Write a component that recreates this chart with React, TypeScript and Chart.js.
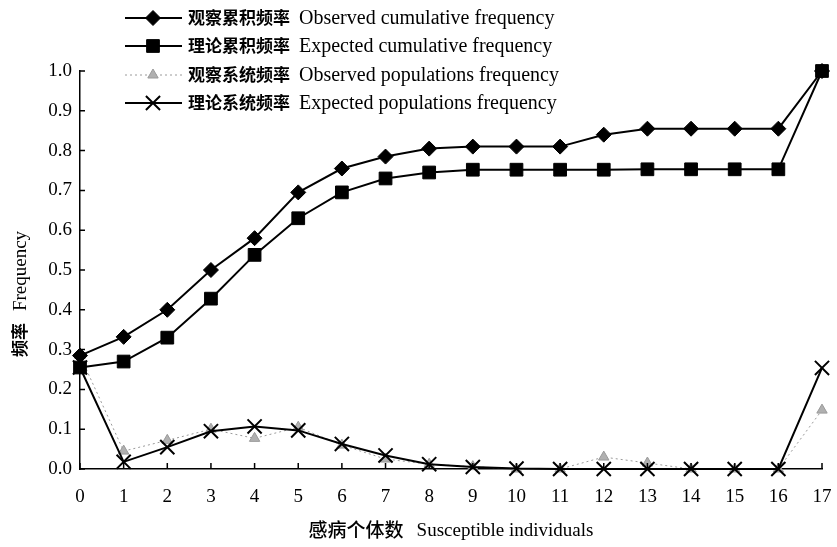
import React, { useEffect, useRef } from "react";
import { Chart, registerables } from "chart.js";

Chart.register(...registerables);

const categories = [0, 1, 2, 3, 4, 5, 6, 7, 8, 9, 10, 11, 12, 13, 14, 15, 16, 17];
const observedCumulative = [0.285, 0.332, 0.4, 0.5, 0.58, 0.695, 0.755, 0.785, 0.805, 0.81, 0.81, 0.81, 0.84, 0.855, 0.855, 0.855, 0.855, 1.0];
const expectedCumulative = [0.255, 0.27, 0.33, 0.428, 0.538, 0.63, 0.695, 0.73, 0.745, 0.752, 0.752, 0.752, 0.752, 0.753, 0.753, 0.753, 0.753, 1.0];
const observedPopulations = [0.285, 0.045, 0.072, 0.1, 0.077, 0.105, 0.06, 0.025, 0.012, 0.006, 0.0, 0.0, 0.03, 0.015, 0.0, 0.0, 0.0, 0.148];
const expectedPopulations = [0.255, 0.018, 0.055, 0.095, 0.107, 0.097, 0.063, 0.034, 0.012, 0.005, 0.001, 0.0, 0.0, 0.0, 0.0, 0.0, 0.0, 0.254];
const seriesLabelsZh = ["观察累积频率", "理论累积频率", "观察系统频率", "理论系统频率"];
const seriesLabelsEn = ["Observed cumulative frequency", "Expected cumulative frequency", "Observed populations frequency", "Expected populations frequency"];
const yTicks = [0, 0.1, 0.2, 0.3, 0.4, 0.5, 0.6, 0.7, 0.8, 0.9, 1.0];
const xTitleZh = "感病个体数";
const xTitleEn = "Susceptible individuals";
const yTitleZh = "频率";
const yTitleEn = "Frequency";

const SERIF = "'Liberation Serif', 'DejaVu Serif', serif";
const CJK = "'Noto Sans CJK SC', sans-serif";

const extrasPlugin = {
  id: "extras",
  afterDraw(chart: any) {
    const ctx = chart.ctx;
    const xs = chart.scales.x;
    const ys = chart.scales.y;
    const area = chart.chartArea;
    ctx.save();
    // inward ticks
    ctx.strokeStyle = "#000";
    ctx.lineWidth = 1.5;
    ctx.beginPath();
    yTicks.forEach((v) => {
      const py = ys.getPixelForValue(v);
      ctx.moveTo(area.left, py);
      ctx.lineTo(area.left + 5, py);
    });
    categories.forEach((c) => {
      const px = xs.getPixelForValue(c);
      ctx.moveTo(px, area.bottom);
      ctx.lineTo(px, area.bottom - 6);
    });
    ctx.stroke();

    // legend
    const rows = [18, 46, 75, 103];
    rows.forEach((ry, i) => {
      const ds = chart.data.datasets[i];
      ctx.save();
      ctx.strokeStyle = ds.borderColor;
      ctx.lineWidth = ds.borderWidth;
      ctx.setLineDash(ds.borderDash || []);
      ctx.beginPath();
      ctx.moveTo(125, ry);
      ctx.lineTo(182, ry);
      ctx.stroke();
      ctx.setLineDash([]);
      const el = chart.getDatasetMeta(i).data[0];
      if (el) {
        ctx.translate(153 - el.x, ry - el.y);
        el.draw(ctx);
      }
      ctx.restore();
      ctx.fillStyle = "#000";
      ctx.textBaseline = "middle";
      ctx.textAlign = "left";
      ctx.font = `bold 17px ${CJK}`;
      ctx.fillText(seriesLabelsZh[i], 188, ry);
      const w = ctx.measureText(seriesLabelsZh[i]).width;
      ctx.font = `20px ${SERIF}`;
      ctx.fillText(seriesLabelsEn[i], 188 + w + 9, ry + 1);
    });

    // x title
    ctx.fillStyle = "#000";
    ctx.textBaseline = "middle";
    ctx.textAlign = "left";
    ctx.font = `500 19px ${CJK}`;
    const wz = ctx.measureText(xTitleZh).width;
    ctx.font = `19px ${SERIF}`;
    const we = ctx.measureText(xTitleEn).width;
    const total = wz + 13 + we;
    const sx = (area.left + area.right) / 2 - total / 2;
    ctx.font = `500 19px ${CJK}`;
    ctx.fillText(xTitleZh, sx, 530);
    ctx.font = `19px ${SERIF}`;
    ctx.fillText(xTitleEn, sx + wz + 13, 531);

    // y title
    ctx.save();
    ctx.translate(20, 294);
    ctx.rotate(-Math.PI / 2);
    ctx.font = `bold 17px ${CJK}`;
    const yz = ctx.measureText(yTitleZh).width;
    ctx.font = `19px ${SERIF}`;
    const ye = ctx.measureText(yTitleEn).width;
    const yt = yz + 12 + ye;
    ctx.font = `bold 17px ${CJK}`;
    ctx.fillText(yTitleZh, -yt / 2, 0);
    ctx.font = `19px ${SERIF}`;
    ctx.fillText(yTitleEn, -yt / 2 + yz + 12, 1);
    ctx.restore();

    ctx.restore();
  },
};

function toPoints(vals: number[]) {
  return vals.map((v, i) => ({ x: categories[i], y: v }));
}

export default function App() {
  const ref = useRef<HTMLCanvasElement | null>(null);
  useEffect(() => {
    if (!ref.current) return;
    const chart = new Chart(ref.current, {
      type: "line",
      data: {
        datasets: [
          {
            label: seriesLabelsEn[0],
            data: toPoints(observedCumulative),
            borderColor: "#000",
            backgroundColor: "#000",
            borderWidth: 2,
            pointStyle: "rectRot",
            pointRadius: 7.5,
            pointBorderWidth: 1,
            clip: false,
            order: 0,
          },
          {
            label: seriesLabelsEn[1],
            data: toPoints(expectedCumulative),
            borderColor: "#000",
            backgroundColor: "#000",
            borderWidth: 2,
            pointStyle: "rect",
            pointRadius: 9,
            pointBorderWidth: 1,
            clip: false,
            order: 1,
          },
          {
            label: seriesLabelsEn[2],
            data: toPoints(observedPopulations),
            borderColor: "#9a9a9a",
            backgroundColor: "#b0b0b0",
            borderWidth: 1,
            borderDash: [2, 3],
            pointStyle: "triangle",
            pointRadius: 6,
            pointBorderWidth: 1,
            clip: false,
            order: 3,
          },
          {
            label: seriesLabelsEn[3],
            data: toPoints(expectedPopulations),
            borderColor: "#000",
            backgroundColor: "#000",
            borderWidth: 2,
            pointStyle: "crossRot",
            pointRadius: 10,
            pointBorderWidth: 2,
            clip: false,
            order: 2,
          },
        ] as any,
      },
      options: {
        animation: false,
        responsive: false,
        layout: { padding: { top: 71, right: 15, left: 0, bottom: 0 } },
        plugins: { legend: { display: false }, tooltip: { enabled: false }, title: { display: false } },
        elements: { line: { tension: 0 } },
        scales: {
          x: {
            type: "linear",
            min: 0,
            max: 17,
            afterFit: (s: any) => { s.height = 78; s.paddingRight = 0; s.paddingLeft = 0; },
            ticks: {
              stepSize: 1,
              padding: 17,
              color: "#000",
              font: { family: SERIF, size: 19 },
              callback: (v: any) => String(v),
            },
            grid: { display: true, drawOnChartArea: false, drawTicks: false },
            border: { color: "#000", width: 1.5 },
          },
          y: {
            type: "linear",
            min: 0,
            max: 1,
            afterFit: (s: any) => { s.width = 80; s.paddingTop = 0; s.paddingBottom = 0; },
            afterBuildTicks: (s: any) => { s.ticks = yTicks.map((v) => ({ value: v })); },
            ticks: {
              padding: 8,
              color: "#000",
              font: { family: SERIF, size: 19 },
              callback: (v: any) => Number(v).toFixed(1),
            },
            grid: { display: true, drawOnChartArea: false, drawTicks: false },
            border: { color: "#000", width: 1.5 },
          },
        },
      } as any,
      plugins: [extrasPlugin],
    });
    return () => chart.destroy();
  }, []);
  return (
    <div style={{ position: "absolute", left: 0, top: 0, width: 837, height: 547, background: "#fff" }}>
      <canvas ref={ref} width={837} height={547} style={{ width: 837, height: 547 }} />
    </div>
  );
}
